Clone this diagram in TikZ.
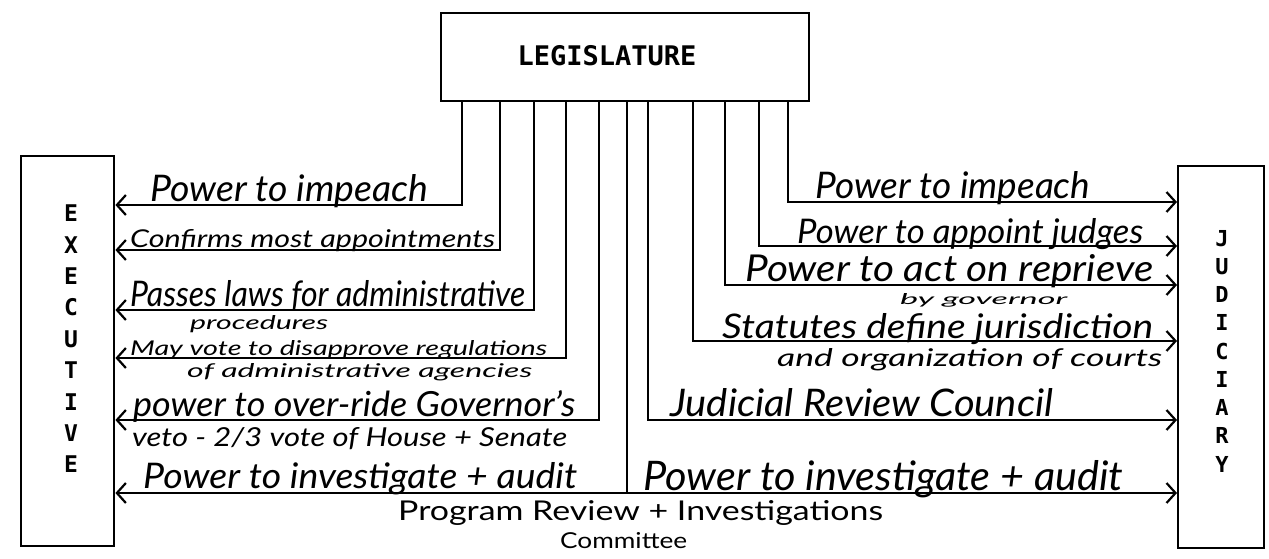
\documentclass[tikz,border=0pt]{standalone}
\usepackage{fontspec}
\usepackage{graphicx}
\setmainfont{Lato}
\newfontfamily\letterfont{DejaVu Sans Mono}
\usetikzlibrary{arrows.meta}
\newcommand{\fitwh}[3]{\resizebox{#1pt}{#2pt}{#3}}
\begin{document}
\begin{tikzpicture}[x=1pt,y=-1pt,
  box/.style={draw, line width=2.4pt, inner sep=0pt, anchor=north west},
  conn/.style={line width=2.2pt},
  arr/.style={line width=2.2pt, -{Straight Barb[length=9pt,width=20pt,line width=2.2pt]}},
  lab/.style={inner sep=0pt, anchor=base west, font=\itshape},
  plab/.style={inner sep=0pt, anchor=base west},
  vlet/.style={inner sep=0pt, align=center, font=\letterfont\bfseries\fontsize{23}{31.4}\selectfont},
  jlet/.style={inner sep=0pt, align=center, font=\letterfont\bfseries\fontsize{22}{28.25}\selectfont}
]
\useasboundingbox (0,0) rectangle (1269,559);

% boxes
\node[box, minimum width=368pt, minimum height=88pt] (leg) at (440,12) {};
\node[inner sep=0pt, font=\letterfont\bfseries\fontsize{27}{30}\selectfont] (leglbl) at (607,56) {LEGISLATURE};
\node[box, minimum width=93pt, minimum height=390pt] (exec) at (20,155) {};
\node[vlet] (execlbl) at (71,339) {E\\X\\E\\C\\U\\T\\I\\V\\E};
\node[box, minimum width=86pt, minimum height=382pt] (jud) at (1177,165) {};
\node[jlet] (judlbl) at (1222,351) {J\\U\\D\\I\\C\\I\\A\\R\\Y};

% stubs on the legislature bottom edge
\coordinate (t1) at (462,0 |- leg.south);
\coordinate (t2) at (500,0 |- leg.south);
\coordinate (t3) at (534,0 |- leg.south);
\coordinate (t4) at (566,0 |- leg.south);
\coordinate (t5) at (599,0 |- leg.south);
\coordinate (t6) at (627,0 |- leg.south);
\coordinate (t7) at (648,0 |- leg.south);
\coordinate (t8) at (693,0 |- leg.south);
\coordinate (t9) at (725,0 |- leg.south);
\coordinate (t10) at (759,0 |- leg.south);
\coordinate (t11) at (788,0 |- leg.south);
\coordinate (c) at (627,493);

% connectors to executive
\draw[arr] (t1) |- (exec.east |- 0,205);
\draw[arr] (t2) |- (exec.east |- 0,250);
\draw[arr] (t3) |- (exec.east |- 0,310);
\draw[arr] (t4) |- (exec.east |- 0,358);
\draw[arr] (t5) |- (exec.east |- 0,420);
\draw[conn] (t6) -- (c);
\draw[arr] (c) -- (exec.east |- c);
\draw[arr] (c) -- (jud.west |- c);
% connectors to judiciary
\draw[arr] (t7) |- (jud.west |- 0,420);
\draw[arr] (t8) |- (jud.west |- 0,341);
\draw[arr] (t9) |- (jud.west |- 0,285);
\draw[arr] (t10) |- (jud.west |- 0,246);
\draw[arr] (t11) |- (jud.west |- 0,202);

% labels, executive side
\node[lab] (l1) at (150,201) {\fitwh{278}{27}{Power to impeach}};
\node[lab] (l2) at (130,247) {\fitwh{365}{18}{Confirms most appointments}};
\node[lab] (l3) at (130,306) {\fitwh{395}{26}{Passes laws for administrative}};
\node[lab] (l3b) at (190,329) {\fitwh{138}{14}{procedures}};
\node[lab] (l4) at (130,355) {\fitwh{417}{15}{May vote to disapprove regulations}};
\node[lab] (l4b) at (187,377) {\fitwh{345}{14}{of administrative agencies}};
\node[lab] (l5) at (133,416) {\fitwh{442}{26}{power to over-ride Governor's}};
\node[lab] (l5b) at (132,446) {\fitwh{435}{19}{veto - 2/3 vote of House + Senate}};
\node[lab] (l6) at (143,488) {\fitwh{434}{26}{Power to investigate + audit}};
% labels, judiciary side
\node[lab] (r1) at (815,199) {\fitwh{275}{27}{Power to impeach}};
\node[lab] (r2) at (797,243) {\fitwh{346}{25}{Power to appoint judges}};
\node[lab] (r3) at (745,281) {\fitwh{408}{27}{Power to act on reprieve}};
\node[lab] (r3b) at (900,304) {\fitwh{167}{11}{by governor}};
\node[lab] (r4) at (722,338) {\fitwh{431}{25}{Statutes define jurisdiction}};
\node[lab] (r4b) at (777,366) {\fitwh{385}{18}{and organization of courts}};
\node[lab] (r5) at (670,416) {\fitwh{383}{28}{Judicial Review Council}};
\node[lab] (r6) at (643,490) {\fitwh{480}{30}{Power to investigate + audit}};
% bottom
\node[plab] (p1) at (398,520) {\fitwh{485}{20}{Program Review + Investigations}};
\node[plab] (p2) at (560,548) {\fitwh{127}{16}{Committee}};
\end{tikzpicture}
\end{document}
